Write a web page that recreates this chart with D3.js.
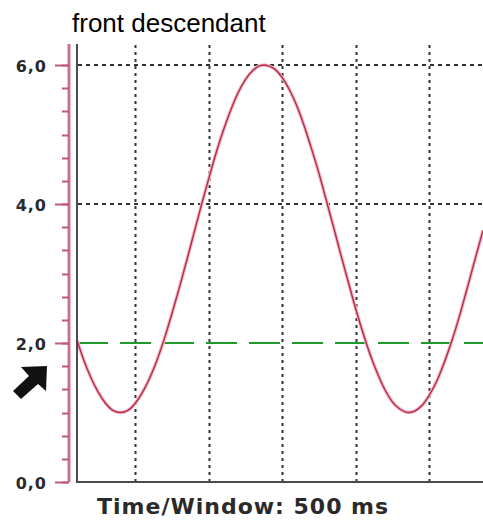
<!DOCTYPE html>
<html><head><meta charset="utf-8">
<script src="https://cdn.jsdelivr.net/npm/d3@7"></script>
<style>body{margin:0;background:#fff}svg{display:block}</style>
</head><body>
<script>
const title = "front descendant";
const xLabel = "Time/Window: 500 ms";
const yTickValues = [0, 2, 4, 6];
const yTickLabels = ["0,0", "2,0", "4,0", "6,0"];
const dottedLevels = [4, 6];
const triggerLevel = 2;
const gridTimes = [100, 200, 300, 400, 500];
const curveTime = [21,30,40,50,60,70,80,90,100,110,120,130,140,150,160,170,180,190,200,210,220,230,240,250,260,270,276,280,290,300,310,320,330,340,350,360,370,380,390,400,410,420,430,440,450,460,472,480,490,500,510,520,530,540,550,560,573];
const curveVolt = [2.04,1.76,1.50,1.29,1.13,1.03,1.00,1.03,1.13,1.29,1.50,1.76,2.07,2.42,2.79,3.18,3.58,3.98,4.36,4.73,5.06,5.35,5.60,5.79,5.92,5.99,6.00,5.99,5.94,5.82,5.64,5.41,5.12,4.79,4.44,4.05,3.66,3.26,2.87,2.49,2.14,1.82,1.55,1.32,1.15,1.05,1.00,1.02,1.10,1.25,1.45,1.71,2.01,2.35,2.73,3.12,3.62];

const W = 483, H = 522;
const svg = d3.select("body").append("svg").attr("width", W).attr("height", H);

const x = d3.scaleLinear().domain([21, 573]).range([77, 483]);
const y = d3.scaleLinear().domain([0, 6]).range([482, 65]);
const topY = 44;

// title
svg.append("text").attr("x", 72).attr("y", 32)
  .attr("font-family", "'Liberation Sans', Arial, sans-serif").attr("font-size", 26)
  .attr("fill", "#000").text(title);

// vertical dotted grid
svg.append("g").selectAll("line").data(gridTimes).join("line")
  .attr("x1", d => Math.round(x(d)) + 0.5).attr("x2", d => Math.round(x(d)) + 0.5)
  .attr("y1", topY + 1).attr("y2", 481)
  .attr("stroke", "#333").attr("stroke-width", 2).attr("stroke-dasharray", "3,4");

// horizontal dotted grid
svg.append("g").selectAll("line").data(dottedLevels).join("line")
  .attr("x1", 78).attr("x2", W)
  .attr("y1", d => Math.round(y(d))).attr("y2", d => Math.round(y(d)))
  .attr("stroke", "#333").attr("stroke-width", 2).attr("stroke-dasharray", "4,4");

// trigger level green dashed
svg.append("line").attr("x1", 77).attr("x2", W)
  .attr("y1", Math.round(y(triggerLevel))).attr("y2", Math.round(y(triggerLevel)))
  .attr("stroke", "#1e9a2a").attr("stroke-width", 2).attr("stroke-dasharray", "31,12");

// curve
const line = d3.line().x((d, i) => x(curveTime[i])).y(d => y(d)).curve(d3.curveMonotoneX);
svg.append("path").datum(curveVolt).attr("d", line)
  .attr("fill", "none").attr("stroke", "#f0b8c4").attr("stroke-width", 3.5);
svg.append("path").datum(curveVolt).attr("d", line)
  .attr("fill", "none").attr("stroke", "#b82a48").attr("stroke-width", 1.4);

// plot border (left + bottom)
svg.append("path").attr("d", `M77,${topY}V482H${W}`)
  .attr("fill", "none").attr("stroke", "#4a4a4a").attr("stroke-width", 2);

// pink y axis
const yAxis = svg.append("g");
yAxis.append("line").attr("x1", 69).attr("x2", 69).attr("y1", topY).attr("y2", 482)
  .attr("stroke", "#eab8c8").attr("stroke-width", 4);
yAxis.append("line").attr("x1", 69).attr("x2", 69).attr("y1", topY).attr("y2", 482)
  .attr("stroke", "#c05a7c").attr("stroke-width", 1.5);
const minor = d3.range(0, 18.5, 1).map(k => k / 3);
yAxis.selectAll(".mn").data(minor).join("line").attr("class", "mn")
  .attr("x1", 62).attr("x2", 69)
  .attr("y1", d => Math.round(y(d)) + 0.5).attr("y2", d => Math.round(y(d)) + 0.5)
  .attr("stroke", "#c05a7c").attr("stroke-width", 2);
yAxis.selectAll(".mj").data(yTickValues).join("line").attr("class", "mj")
  .attr("x1", 55).attr("x2", 69)
  .attr("y1", d => Math.round(y(d)) + 0.5).attr("y2", d => Math.round(y(d)) + 0.5)
  .attr("stroke", "#c05a7c").attr("stroke-width", 2);
yAxis.selectAll("text").data(yTickValues).join("text")
  .attr("x", 47).attr("y", d => y(d) + 7)
  .attr("text-anchor", "end")
  .attr("font-family", "'DejaVu Sans', Verdana, sans-serif").attr("font-weight", "bold")
  .attr("font-size", 16).attr("letter-spacing", 1).attr("fill", "#2a2a2a")
  .text((d, i) => yTickLabels[i]);

// arrow
svg.append("path")
  .attr("d", "M47,366 L46,391 L38,384 L21,399 L13,391 L29,376 L21,367 Z")
  .attr("fill", "#111");

// x label
svg.append("text").attr("x", 97).attr("y", 514)
  .attr("font-family", "'DejaVu Sans', Verdana, sans-serif").attr("font-weight", "bold")
  .attr("font-size", 22).attr("letter-spacing", 1).attr("fill", "#2a2a2a").text(xLabel);
</script>
</body></html>
